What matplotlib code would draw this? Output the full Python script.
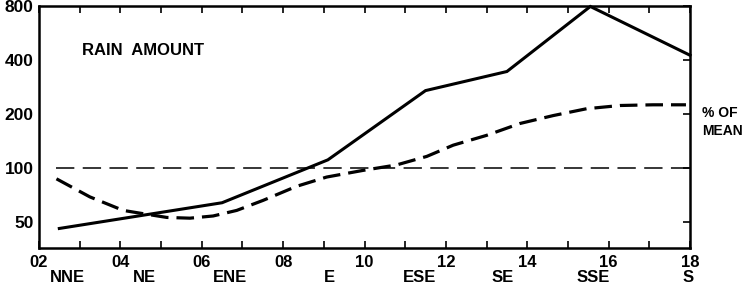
import matplotlib
matplotlib.use("Agg")
import matplotlib.pyplot as plt
import matplotlib.transforms as mtransforms
from matplotlib.ticker import FixedLocator, NullLocator, FixedFormatter

plt.rcParams['font.family'] = ['Liberation Sans', 'DejaVu Sans']
plt.rcParams['font.weight'] = 'bold'

# ---- data ----
solid_x = [2.5, 6.5, 9.1, 11.5, 13.5, 15.55, 18.0]
solid_y = [46, 64, 111, 270, 345, 795, 425]

dash_x = [2.43, 3.25, 4.07, 4.48, 5.14, 5.71, 6.28, 6.86, 7.51, 8.33, 9.07,
          9.97, 10.79, 11.53, 12.18, 13.0, 13.82, 14.64, 15.46, 16.28, 17.09, 17.9]
dash_y = [87, 69, 58, 56, 53, 52.5, 54, 58, 66, 79, 89,
          97, 104, 116, 134, 152, 177, 196, 214, 223, 225, 225]

ref_x = [2.43, 18.0]
ref_y = [100, 100]

xtick_major = [2, 4, 6, 8, 10, 12, 14, 16, 18]
xtick_labels = ["02", "04", "06", "08", "10", "12", "14", "16", "18"]
xtick_minor = [3, 5, 7, 9, 11, 13, 15, 17]
ytick_vals = [50, 100, 200, 400, 800]
ytick_labels = ["50", "100", "200", "400", "800"]

dir_x = [2.7, 4.6, 6.7, 9.15, 11.35, 13.4, 15.62, 17.95]
dir_labels = ["NNE", "NE", "ENE", "E", "ESE", "SE", "SSE", "S"]

# ---- figure ----
fig = plt.figure(figsize=(7.48, 2.92), dpi=100)
ax = fig.add_axes([0.0521, 0.1507, 0.8704, 0.8288])

ax.set_yscale('log')
ax.set_xlim(2, 18)
ax.set_ylim(35.8, 800)

ax.plot(solid_x, solid_y, color='black', lw=2.2, solid_joinstyle='miter', clip_on=False)
ax.plot(dash_x, dash_y, color='black', lw=2.3, linestyle=(0, (5.5, 2.5)))
ax.plot(ref_x, ref_y, color='black', lw=1.1, linestyle=(0, (12, 5.5)))

for s in ax.spines.values():
    s.set_linewidth(1.8)

ax.xaxis.set_major_locator(FixedLocator(xtick_major))
ax.xaxis.set_major_formatter(FixedFormatter(xtick_labels))
ax.xaxis.set_minor_locator(FixedLocator(xtick_minor))
ax.yaxis.set_major_locator(FixedLocator(ytick_vals))
ax.yaxis.set_major_formatter(FixedFormatter(ytick_labels))
ax.yaxis.set_minor_locator(NullLocator())

ax.tick_params(axis='x', which='both', direction='in', top=True, bottom=True,
               length=5, width=1.2, labelsize=12, pad=5)
ax.tick_params(axis='y', which='major', direction='in', left=False, right=True,
               length=5, width=1.2, labelsize=12.5, pad=4)

# direction labels below the hour labels
trans = mtransforms.blended_transform_factory(ax.transData, ax.transAxes)
for x, lab in zip(dir_x, dir_labels):
    ax.text(x, -0.12, lab, transform=trans, ha='center', va='center', fontsize=12)

ax.text(0.066, 0.815, "RAIN  AMOUNT", transform=ax.transAxes, ha='left', va='center', fontsize=12)

fig.text(702 / 748, 1 - 113 / 292, "% OF", ha='left', va='center', fontsize=10)
fig.text(702 / 748, 1 - 131 / 292, "MEAN", ha='left', va='center', fontsize=10)

fig.savefig("out.png", dpi=100)
